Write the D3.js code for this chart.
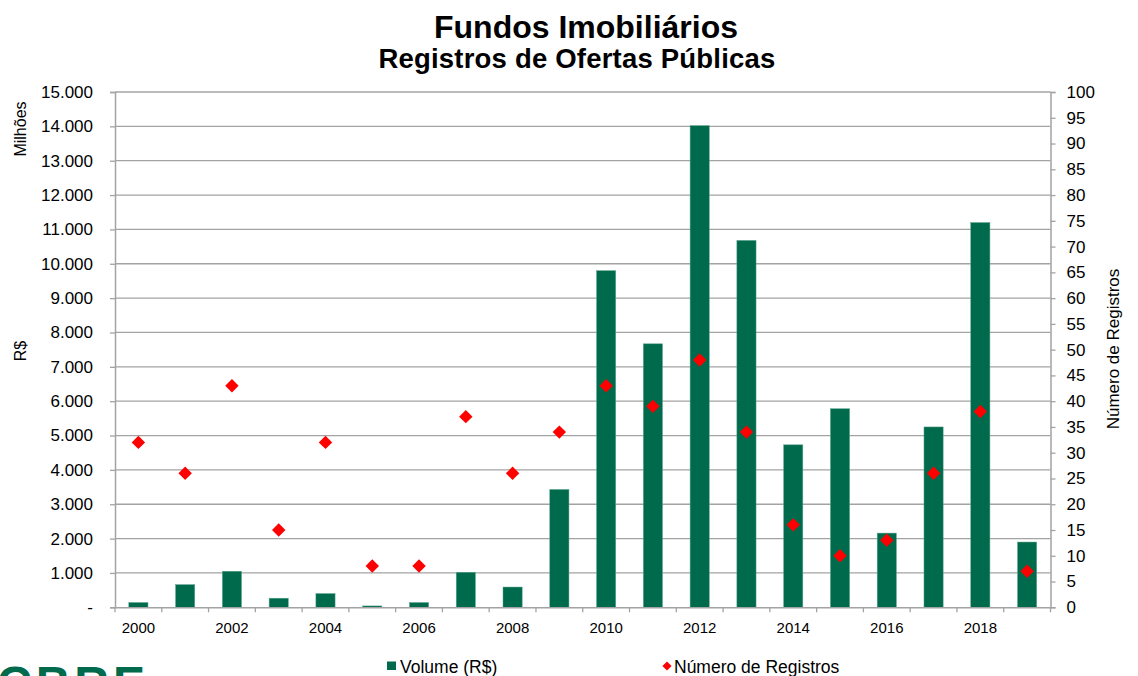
<!DOCTYPE html>
<html>
<head>
<meta charset="utf-8">
<script src="https://cdn.jsdelivr.net/npm/d3@7"></script>
<style>
  body { margin: 0; background: #fff; }
  text { font-family: "Liberation Sans", Arial, sans-serif; fill: #000; }
</style>
</head>
<body>
<svg id="chart" width="1138" height="676"></svg>
<script>
const years = ["2000", "2001", "2002", "2003", "2004", "2005", "2006", "2007", "2008", "2009",
  "2010", "2011", "2012", "2013", "2014", "2015", "2016", "2017", "2018", "2019"];
// Volume (R$ milhões)
const volume = [140, 660, 1050, 265, 400, 40, 140, 1020, 590, 3430,
  9800, 7670, 14020, 10680, 4730, 5780, 2160, 5250, 11200, 1900];
// Número de registros
const registros = [32, 26, 43, 15, 32, 8, 8, 37, 26, 34,
  43, 39, 48, 34, 16, 10, 13, 26, 38, 7];
const volumeTicks = d3.range(0, 15001, 1000);
const registrosTicks = d3.range(0, 101, 5);

const green = "#006A4D";
const red = "#FF0000";
const gridColor = "#A3A3A3";

const plot = { left: 115, right: 1050.5, top: 92, bottom: 607.3 };

const svg = d3.select("#chart");
const locale = d3.formatLocale({ decimal: ",", thousands: ".", grouping: [3], currency: ["R$", ""] });
const fmt = locale.format(",d");

const x = d3.scaleBand()
  .domain(years)
  .range([plot.left, plot.right])
  .paddingInner(0.59)
  .paddingOuter(0.295);
const xb = d3.scaleBand().domain(years).range([plot.left, plot.right]);
const y = d3.scaleLinear().domain([0, 15000]).range([plot.bottom, plot.top]);
const y2 = d3.scaleLinear().domain([0, 100]).range([plot.bottom, plot.top]);

// titles
svg.append("text")
  .attr("x", 586).attr("y", 38)
  .attr("text-anchor", "middle")
  .attr("font-size", 32).attr("font-weight", "bold")
  .text("Fundos Imobiliários");
svg.append("text")
  .attr("x", 577).attr("y", 68)
  .attr("text-anchor", "middle")
  .attr("font-size", 27.5).attr("font-weight", "bold")
  .attr("letter-spacing", 0.2)
  .text("Registros de Ofertas Públicas");

// gridlines
svg.append("g")
  .selectAll("line")
  .data(volumeTicks.filter(d => d > 0))
  .join("line")
  .attr("x1", plot.left).attr("x2", plot.right)
  .attr("y1", d => y(d)).attr("y2", d => y(d))
  .attr("stroke", gridColor).attr("stroke-width", 1.3);

// left axis
const gl = svg.append("g")
  .attr("transform", `translate(${plot.left},0)`)
  .call(d3.axisLeft(y).tickValues(volumeTicks).tickSize(5).tickPadding(17)
    .tickFormat(d => (d === 0 ? "-" : fmt(d))));
gl.selectAll("text").attr("font-size", 17).attr("fill", "#000");

// right axis
const gr = svg.append("g")
  .attr("transform", `translate(${plot.right},0)`)
  .call(d3.axisRight(y2).tickValues(registrosTicks).tickSize(5).tickPadding(11));
gr.selectAll("text").attr("font-size", 17).attr("fill", "#000");

[gl, gr].forEach(g => {
  g.selectAll("line").attr("stroke", gridColor).attr("stroke-width", 1.3);
  g.select(".domain").attr("stroke", gridColor).attr("stroke-width", 1.5);
  g.selectAll("text").attr("font-family", "Liberation Sans, Arial, sans-serif");
});

// bars
svg.append("g")
  .selectAll("rect")
  .data(years.map((d, i) => ({ year: d, value: volume[i] })))
  .join("rect")
  .attr("x", d => x(d.year))
  .attr("width", x.bandwidth())
  .attr("y", d => y(d.value))
  .attr("height", d => y(0) - y(d.value))
  .attr("fill", green)
  .attr("stroke", "#5fa58f")
  .attr("stroke-width", 0.5);

// bottom axis (ticks on band edges, labels every other year)
const gb = svg.append("g")
  .attr("transform", `translate(0,${plot.bottom})`)
  .call(d3.axisBottom(xb).tickSize(0).tickPadding(15)
    .tickFormat((d, i) => (i % 2 === 0 ? d : "")));
gb.select(".domain").attr("stroke", gridColor).attr("stroke-width", 1.5);
gb.selectAll("text").attr("font-size", 15).attr("fill", "#000")
  .attr("font-family", "Liberation Sans, Arial, sans-serif");
gb.selectAll("line.edge")
  .data(years.map(d => xb(d)).concat([plot.right]))
  .join("line")
  .attr("class", "edge")
  .attr("x1", d => d).attr("x2", d => d)
  .attr("y1", 0).attr("y2", 5)
  .attr("stroke", gridColor).attr("stroke-width", 1.3);

// markers
svg.append("g")
  .selectAll("path")
  .data(years.map((d, i) => ({ year: d, value: registros[i] })))
  .join("path")
  .attr("transform", d => `translate(${xb(d.year) + xb.bandwidth() / 2},${y2(d.value)}) rotate(45)`)
  .attr("d", d3.symbol().type(d3.symbolSquare).size(90))
  .attr("fill", red);

// axis titles
svg.append("text")
  .attr("transform", "translate(26,129) rotate(-90)")
  .attr("text-anchor", "middle")
  .attr("font-size", 16)
  .text("Milhões");
svg.append("text")
  .attr("transform", "translate(26,351) rotate(-90)")
  .attr("text-anchor", "middle")
  .attr("font-size", 16)
  .text("R$");
svg.append("text")
  .attr("transform", "translate(1119,349) rotate(-90)")
  .attr("text-anchor", "middle")
  .attr("font-size", 17)
  .text("Número de Registros");

// legend
const legend = svg.append("g");
legend.append("rect")
  .attr("x", 387).attr("y", 661.5).attr("width", 9).attr("height", 8.5)
  .attr("fill", green);
legend.append("text")
  .attr("x", 400).attr("y", 673)
  .attr("font-size", 17.5)
  .text("Volume (R$)");
legend.append("path")
  .attr("transform", "translate(667,666) rotate(45)")
  .attr("d", d3.symbol().type(d3.symbolSquare).size(42))
  .attr("fill", red);
legend.append("text")
  .attr("x", 674).attr("y", 673)
  .attr("font-size", 17.5)
  .text("Número de Registros");

// logo, cut by the bottom edge as in the source image
svg.append("text")
  .attr("x", -3).attr("y", 700)
  .attr("font-size", 48).attr("font-weight", "bold")
  .attr("letter-spacing", 4)
  .style("fill", green)
  .text("CBRE");
</script>
</body>
</html>
